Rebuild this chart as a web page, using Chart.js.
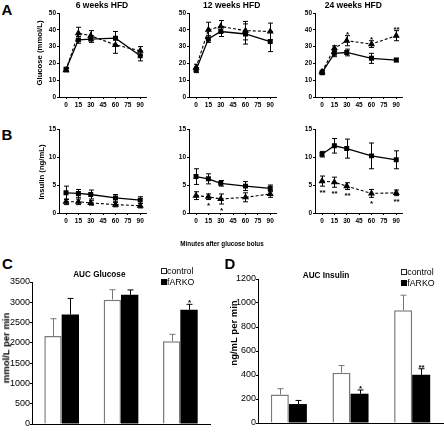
<!DOCTYPE html>
<html>
<head>
<meta charset="utf-8">
<script src="https://cdn.jsdelivr.net/npm/chart.js@4.4.1/dist/chart.umd.min.js"></script>
<style>
  html, body { margin: 0; padding: 0; background: #fff; width: 444px; height: 433px; overflow: hidden; }
  body { position: relative; font-family: "Liberation Sans", Arial, sans-serif; color: #000; }
  canvas { position: absolute; }
  .t { position: absolute; white-space: nowrap; line-height: 1; transform: translate(-50%, -50%); }
  .r { transform: translate(-50%, -50%) rotate(-90deg); }
  .b { font-weight: bold; }
  .box { position: absolute; width: 4px; height: 4px; border: 1px solid #222; background: #fff; }
  .box.fill { background: #000; border-color: #000; }
  .lg { position: absolute; font-size: 8.8px; line-height: 1; white-space: nowrap; transform: translateY(-50%); }
</style>
</head>
<body>
<canvas id="a6"></canvas>
<canvas id="a12"></canvas>
<canvas id="a24"></canvas>
<canvas id="b6"></canvas>
<canvas id="b12"></canvas>
<canvas id="b24"></canvas>
<canvas id="aucGlu"></canvas>
<canvas id="aucIns"></canvas>

<div class="t b" style="left:7px;top:8.5px;font-size:15px">A</div>
<div class="t b" style="left:7px;top:134px;font-size:15px">B</div>
<div class="t b" style="left:7.5px;top:263px;font-size:15px">C</div>
<div class="t b" style="left:230px;top:263px;font-size:15px">D</div>

<div class="t b" style="left:102px;top:5px;font-size:8.5px">6 weeks HFD</div>
<div class="t b" style="left:231.7px;top:5px;font-size:8.5px">12 weeks HFD</div>
<div class="t b" style="left:353.3px;top:5px;font-size:8.5px">24 weeks HFD</div>

<div class="t r b" style="left:40.3px;top:52.5px;font-size:7.7px">Glucose (mmol/L)</div>
<div class="t r b" style="left:41.7px;top:171.5px;font-size:7.7px">Insulin (ng/mL)</div>
<div class="t b" style="left:222px;top:244px;font-size:6.3px">Minutes after glucose bolus</div>

<div class="t b" style="left:99.3px;top:274.5px;font-size:8.2px">AUC Glucose</div>
<div class="t b" style="left:326px;top:276px;font-size:8.2px">AUC Insulin</div>
<div class="t r b" style="left:6px;top:347.5px;font-size:9.5px">mmol/L per min</div>
<div class="t r b" style="left:233.7px;top:333.3px;font-size:9.5px">ng/mL per min</div>

<div class="box" style="left:161px;top:267.5px"></div>
<div class="lg" style="left:167px;top:270.5px">control</div>
<div class="box fill" style="left:161px;top:278.8px"></div>
<div class="lg" style="left:167px;top:281.6px">fARKO</div>

<div class="box" style="left:401px;top:269px"></div>
<div class="lg" style="left:407.3px;top:271.8px">control</div>
<div class="box fill" style="left:401px;top:280px"></div>
<div class="lg" style="left:407.3px;top:282.8px">fARKO</div>

<script>
// time course, minutes after the glucose bolus
const minutes = [0, 15, 30, 60, 90];
const minuteTicks = [0, 15, 30, 45, 60, 75, 90];

// A: glucose (mmol/L), mean and SEM
const glu6Ctrl = [16.5, 34, 34.5, 35, 24.5];
const glu6CtrlErr = [1, 2, 2, 4, 3];
const glu6Ko = [16, 38, 36.5, 31, 27.5];
const glu6KoErr = [1, 3.5, 3, 5, 2.5];

const glu12Ctrl = [16, 34.5, 39, 37.5, 33];
const glu12CtrlErr = [1.5, 2, 3, 6, 6];
const glu12Ko = [17.5, 40, 42, 39.5, 39];
const glu12KoErr = [2, 4.5, 3.5, 5.5, 5];

const glu24Ctrl = [14.5, 26, 26.5, 23, 22];
const glu24CtrlErr = [1, 2, 2, 3, 1];
const glu24Ko = [15, 29, 33.5, 31.5, 36.5];
const glu24KoErr = [1, 1.5, 3, 2, 3];
const glu24KoStars = ["", "", "*", "*", "**"];

// B: insulin (ng/mL)
const ins6Ctrl = [3.6, 3.5, 3.3, 2.7, 2.3];
const ins6CtrlErr = [1.2, 0.7, 0.8, 0.6, 0.6];
const ins6Ko = [2.0, 2.0, 1.8, 1.5, 1.3];
const ins6KoErr = [0.5, 0.5, 0.4, 0.4, 0.4];

const ins12Ctrl = [6.5, 6.1, 5.3, 4.8, 4.4];
const ins12CtrlErr = [1.4, 0.9, 0.5, 0.8, 0.6];
const ins12Ko = [3.1, 2.9, 2.5, 2.8, 3.4];
const ins12KoErr = [0.7, 0.5, 0.9, 0.8, 0.6];
const ins12KoStars = ["", "*", "*", "", ""];

const ins24Ctrl = [10.5, 12.0, 11.5, 10.2, 9.5];
const ins24CtrlErr = [0.5, 1.3, 1.7, 2.3, 1.6];
const ins24Ko = [5.7, 5.5, 4.8, 3.5, 3.6];
const ins24KoErr = [0.9, 0.9, 0.6, 0.7, 0.5];
const ins24KoStars = ["**", "**", "**", "*", "**"];

// C, D: area under the curve
const weeks = ["6 weeks", "12 weeks", "24 weeks"];
const aucGluCtrl = [2170, 3065, 2040];
const aucGluCtrlErr = [425, 245, 170];
const aucGluKo = [2700, 3185, 2815];
const aucGluKoErr = [395, 120, 135];
const aucGluKoStars = ["", "", "*"];

const aucInsCtrl = [238, 419, 940];
const aucInsCtrlErr = [48, 60, 125];
const aucInsKo = [158, 244, 402];
const aucInsKoErr = [30, 31, 50];
const aucInsKoStars = ["", "*", "**"];

// error bars + significance stars, placed with the chart's own scales
const errorBars = {
  id: "errorBars",
  afterDatasetsDraw(chart) {
    const ctx = chart.ctx;
    const ys = chart.scales.y;
    chart.data.datasets.forEach((ds, i) => {
      if (!ds.err) return;
      const meta = chart.getDatasetMeta(i);
      ctx.save();
      ctx.strokeStyle = ds.errColor || "#000";
      ctx.lineWidth = 1;
      meta.data.forEach((el, j) => {
        const d = ds.data[j];
        const v = typeof d === "object" ? d.y : d;
        const e = ds.err[j];
        const x = Math.round(el.x) + 0.5;
        const top = ys.getPixelForValue(v + e);
        const bot = ds.errUp ? ys.getPixelForValue(v) : ys.getPixelForValue(v - e);
        const cap = ds.capW || 2.5;
        ctx.beginPath();
        ctx.moveTo(x, top); ctx.lineTo(x, bot);
        ctx.moveTo(x - cap, top); ctx.lineTo(x + cap, top);
        if (!ds.errUp) { ctx.moveTo(x - cap, bot); ctx.lineTo(x + cap, bot); }
        ctx.stroke();
        const s = ds.stars && ds.stars[j];
        if (s) {
          ctx.fillStyle = "#000";
          ctx.font = "bold 8px 'Liberation Sans', Arial, sans-serif";
          ctx.textAlign = "center";
          ctx.textBaseline = "alphabetic";
          const y = ds.starSide === "below" ? bot + 8.5 : top + 1;
          ctx.fillText(s, x, y);
        }
      });
      ctx.restore();
    });
  }
};

function place(c, rect, yW, xH, padT, padR) {
  c.width = yW + rect.w + padR;
  c.height = padT + rect.h + xH;
  c.style.left = (rect.x - yW) + "px";
  c.style.top = (rect.y - padT) + "px";
}

function pts(vals) {
  return minutes.map((m, i) => ({ x: m, y: vals[i] }));
}

const plain = v => String(v);

function lineChart(id, rect, yMax, yStep, ctrl, ctrlErr, ko, koErr, koStars, starSide) {
  const c = document.getElementById(id);
  const yW = 30, xH = 14, padT = 8, padR = 6;
  place(c, rect, yW, xH, padT, padR);
  const tickFont = { family: "'Liberation Sans', Arial, sans-serif", size: 6.5, weight: "bold" };
  new Chart(c, {
    type: "line",
    data: {
      datasets: [
        {
          label: "control", data: pts(ctrl), err: ctrlErr,
          borderColor: "#000", backgroundColor: "#000", borderWidth: 1.3,
          pointStyle: "rect", pointRadius: 2.6, tension: 0
        },
        {
          label: "fARKO", data: pts(ko), err: koErr, stars: koStars, starSide: starSide,
          borderColor: "#000", backgroundColor: "#000", borderWidth: 1.1, borderDash: [3, 2],
          pointStyle: "triangle", pointRadius: 3, tension: 0
        }
      ]
    },
    options: {
      responsive: false,
      animation: false,
      devicePixelRatio: 1,
      layout: { padding: { top: padT, right: padR, left: 0, bottom: 0 } },
      plugins: { legend: { display: false }, tooltip: { enabled: false } },
      scales: {
        x: {
          type: "linear", min: -8.5, max: 97,
          afterBuildTicks: s => { s.ticks = minuteTicks.map(v => ({ value: v })); },
          afterFit: s => { s.height = xH; },
          grid: { drawOnChartArea: false, tickLength: 2, color: "#000" },
          border: { color: "#000", width: 1 },
          ticks: { font: tickFont, color: "#000", padding: 2, maxRotation: 0, autoSkip: false, callback: plain }
        },
        y: {
          min: 0, max: yMax,
          afterFit: s => { s.width = yW; },
          grid: { drawOnChartArea: false, tickLength: 2, color: "#000" },
          border: { color: "#000", width: 1 },
          ticks: { stepSize: yStep, font: tickFont, color: "#000", padding: 1, callback: plain }
        }
      }
    },
    plugins: [errorBars]
  });
}

function barChart(id, rect, yMax, yStep, ctrl, ctrlErr, ko, koErr, koStars) {
  const c = document.getElementById(id);
  const yW = 26, xH = 16, padT = 8, padR = 4;
  place(c, rect, yW, xH, padT, padR);
  const fam = "'Liberation Sans', Arial, sans-serif";
  new Chart(c, {
    type: "bar",
    data: {
      labels: weeks,
      datasets: [
        {
          label: "control", data: ctrl, err: ctrlErr, errUp: true, errColor: "#777", capW: 3,
          backgroundColor: "#fff", borderColor: "#7a7a7a", borderWidth: 1.5
        },
        {
          label: "fARKO", data: ko, err: koErr, errUp: true, capW: 3, stars: koStars, starSide: "above",
          backgroundColor: "#000", borderColor: "#000", borderWidth: 0
        }
      ]
    },
    options: {
      responsive: false,
      animation: false,
      devicePixelRatio: 1,
      datasets: { bar: { barPercentage: 1, categoryPercentage: 0.585 } },
      layout: { padding: { top: padT, right: padR, left: 0, bottom: 0 } },
      plugins: { legend: { display: false }, tooltip: { enabled: false } },
      scales: {
        x: {
          afterFit: s => { s.height = xH; },
          grid: { display: false },
          border: { display: true, color: "#000", width: 1 },
          ticks: { font: { family: fam, size: 8.5 }, color: "#000", padding: 2, maxRotation: 0 }
        },
        y: {
          min: 0, max: yMax,
          afterFit: s => { s.width = yW; },
          grid: { drawOnChartArea: false, tickLength: 2, color: "#000" },
          border: { color: "#000", width: 1 },
          ticks: { stepSize: yStep, font: { family: fam, size: 9 }, color: "#000", padding: 0, callback: plain }
        }
      }
    },
    plugins: [errorBars]
  });
}

lineChart("a6", { x: 59, y: 13, w: 87, h: 84 }, 50, 10, glu6Ctrl, glu6CtrlErr, glu6Ko, glu6KoErr, null, "above");
lineChart("a12", { x: 189, y: 13, w: 87, h: 84 }, 50, 10, glu12Ctrl, glu12CtrlErr, glu12Ko, glu12KoErr, null, "above");
lineChart("a24", { x: 315, y: 13, w: 87, h: 84 }, 50, 10, glu24Ctrl, glu24CtrlErr, glu24Ko, glu24KoErr, glu24KoStars, "above");

lineChart("b6", { x: 59, y: 129, w: 87, h: 84 }, 15, 5, ins6Ctrl, ins6CtrlErr, ins6Ko, ins6KoErr, null, "below");
lineChart("b12", { x: 189, y: 129, w: 87, h: 84 }, 15, 5, ins12Ctrl, ins12CtrlErr, ins12Ko, ins12KoErr, ins12KoStars, "below");
lineChart("b24", { x: 315, y: 129, w: 87, h: 84 }, 15, 5, ins24Ctrl, ins24CtrlErr, ins24Ko, ins24KoErr, ins24KoStars, "below");

barChart("aucGlu", { x: 32, y: 282, w: 178, h: 142 }, 3500, 500, aucGluCtrl, aucGluCtrlErr, aucGluKo, aucGluKoErr, aucGluKoStars);
barChart("aucIns", { x: 258, y: 279, w: 185, h: 144 }, 1200, 200, aucInsCtrl, aucInsCtrlErr, aucInsKo, aucInsKoErr, aucInsKoStars);
</script>
</body>
</html>
